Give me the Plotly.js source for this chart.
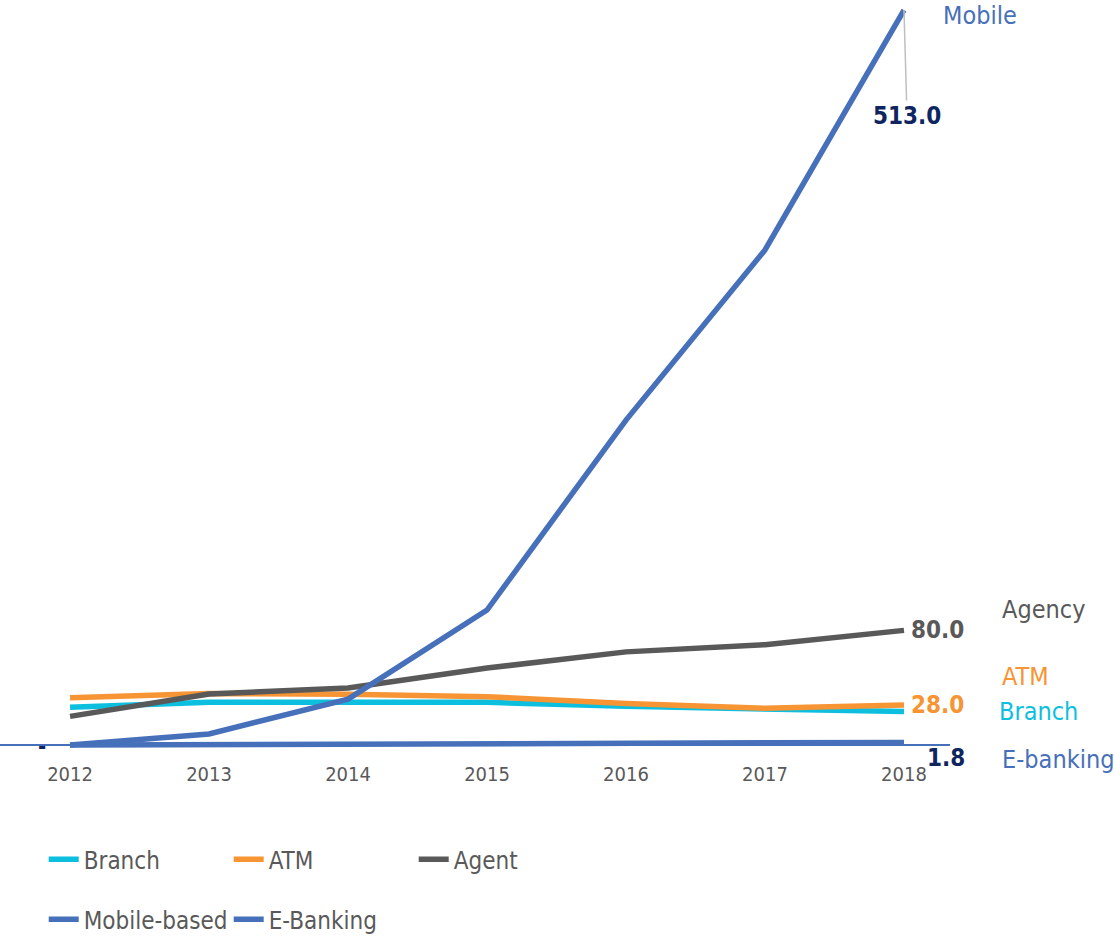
<!DOCTYPE html>
<html>
<head>
<meta charset="utf-8">
<script src="https://cdn.plot.ly/plotly-3.0.1.min.js"></script>
<style>
  html, body { margin: 0; padding: 0; background: #ffffff; }
  #chart { width: 1115px; height: 937px; }
</style>
</head>
<body>
<div id="chart"></div>
<script>
// Number of transactions by channel, 2012-2018
const years = [2012, 2013, 2014, 2015, 2016, 2017, 2018];
const branch = [26.3, 29.8, 29.8, 29.8, 27.0, 24.9, 23.3];
const atm = [33.0, 36.0, 35.4, 33.7, 29.0, 25.6, 28.0];
const agent = [20.0, 35.6, 39.8, 53.7, 65.0, 70.0, 80.0];
const mobile = [0, 7.7, 32.0, 94.2, 226.8, 345.5, 513.0];
const ebanking = [0, 0.2, 0.3, 0.5, 0.8, 1.2, 1.8];

const seriesNames = ['Branch', 'ATM', 'Agent', 'Mobile-based', 'E-Banking'];
const endTags = ['Branch', 'ATM', 'Agency', 'Mobile', 'E-banking'];

const C = {
  branch: '#0DBFDF',
  atm: '#F79433',
  agent: '#595959',
  blue: '#4770BA',
  navy: '#0E2560'
};

const FONT = '"DejaVu Sans Condensed", "DejaVu Sans", sans-serif';

function line(name, y, color, legend) {
  return {
    type: 'scatter', mode: 'lines', name: name, x: years, y: y,
    line: { color: color, width: 5.5 },
    legend: legend, hoverinfo: 'skip'
  };
}

const traces = [
  line(seriesNames[4], ebanking, C.blue, 'legend2'),
  line(seriesNames[0], branch, C.branch, 'legend'),
  line(seriesNames[1], atm, C.atm, 'legend'),
  line(seriesNames[2], agent, C.agent, 'legend'),
  line(seriesNames[3], mobile, C.blue, 'legend2')
];
// legend order: Mobile-based before E-Banking
traces[0].legendrank = 2;
traces[4].legendrank = 1;

const last = years.length - 1;
const lastYear = years[last];
const fmt = v => v.toFixed(1);

function valueLabel(val, color, opts) {
  return Object.assign({
    x: lastYear, y: val, xref: 'x', yref: 'y',
    text: fmt(val), showarrow: false,
    xanchor: 'left', yanchor: 'middle', xshift: 5,
    font: { family: FONT, size: 24, color: color, weight: 'bold' }
  }, opts || {});
}

function tagLabel(text, y, color, xshift, yshift) {
  return {
    x: lastYear, y: y, xref: 'x', yref: 'y',
    text: text, showarrow: false,
    xanchor: 'left', yanchor: 'middle', xshift: xshift, yshift: yshift,
    font: { family: FONT, size: 25, color: color }
  };
}

const annotations = [
  valueLabel(agent[last], C.agent),
  valueLabel(atm[last], C.atm),
  valueLabel(ebanking[last], C.navy, { yshift: -16, xshift: 21 }),
  {
    x: lastYear, y: mobile[last], xref: 'x', yref: 'y',
    text: fmt(mobile[last]), showarrow: true, arrowhead: 0,
    arrowwidth: 1.5, arrowcolor: '#BFBFBF', ax: 3, ay: 106,
    font: { family: FONT, size: 24, color: C.navy, weight: 'bold' }
  },
  // first E-banking value (zero) shown as a dash
  {
    x: years[0], y: ebanking[0], xref: 'x', yref: 'y',
    text: '-', showarrow: false, xshift: -28, yshift: -1,
    font: { family: FONT, size: 22, color: C.navy, weight: 'bold' }
  },
  tagLabel(endTags[3], mobile[last], C.blue, 37, -5),
  tagLabel(endTags[2], agent[last], C.agent, 96, 21),
  tagLabel(endTags[1], atm[last], C.atm, 96, 28),
  tagLabel(endTags[0], branch[last], C.branch, 93, 0),
  tagLabel(endTags[4], ebanking[last], C.blue, 96, -17)
];

const legendBase = {
  orientation: 'h', x: 0.046, xref: 'paper', yref: 'container',
  xanchor: 'left', yanchor: 'top',
  entrywidth: 140, entrywidthmode: 'pixels', itemwidth: 30,
  font: { family: FONT, size: 24, color: '#595959' },
  bgcolor: 'rgba(0,0,0,0)', traceorder: 'normal'
};

const layout = {
  width: 1115, height: 937,
  margin: { l: 0, r: 165, t: 5, b: 182 },
  paper_bgcolor: '#ffffff', plot_bgcolor: '#ffffff',
  showlegend: true,
  xaxis: {
    range: [2011.496, 2018.331],
    tickvals: years, ticktext: years.map(String),
    showgrid: false, zeroline: false, showline: false,
    ticks: '', ticklabelstandoff: 5,
    tickfont: { family: FONT, size: 20, color: '#595959' }
  },
  yaxis: {
    range: [-6.98, 516.5],
    showgrid: false, showticklabels: false, ticks: '',
    zeroline: true, zerolinecolor: '#4770BA', zerolinewidth: 1.2,
    showline: false
  },
  legend: Object.assign({}, legendBase, { y: 0.1065 }),
  legend2: Object.assign({}, legendBase, { y: 0.0425 }),
  annotations: annotations
};

Plotly.newPlot('chart', traces, layout, { displayModeBar: false, staticPlot: true });
</script>
</body>
</html>
